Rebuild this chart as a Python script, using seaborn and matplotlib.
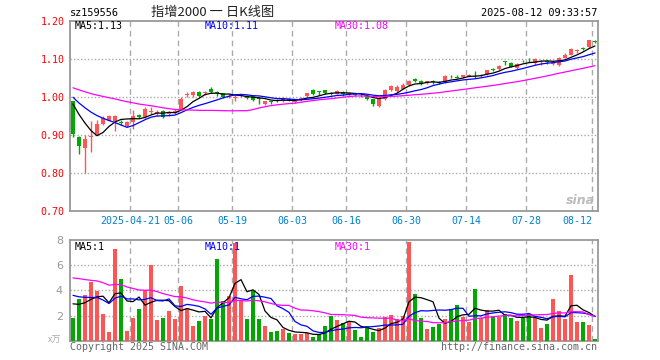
import numpy as np
import pandas as pd
import matplotlib
matplotlib.use("Agg")
import matplotlib.pyplot as plt
import seaborn as sns

# trading days 2025-04-07 .. 2025-08-12 (holidays removed)
holidays = ["2025-05-01", "2025-05-02", "2025-05-05", "2025-06-02"]
tick_dates = ["2025-04-21", "2025-05-06", "2025-05-19", "2025-06-03", "2025-06-16",
              "2025-06-30", "2025-07-14", "2025-07-28", "2025-08-12"]
tick_labels = ["2025-04-21", "05-06", "05-19", "06-03", "06-16", "06-30", "07-14", "07-28", "08-12"]

opens = [0.988, 0.893, 0.866, 0.893, 0.902, 0.928, 0.937, 0.935, 0.934, 0.924,
         0.933, 0.953, 0.947, 0.960, 0.957, 0.962, 0.955, 0.958, 0.967, 1.004,
         1.004, 1.013, 1.009, 1.021, 1.012, 1.009, 1.000, 0.997, 1.004, 1.003,
         1.002, 0.997, 0.981, 0.988, 0.991, 0.988, 0.994, 0.986, 0.992, 1.003,
         1.017, 1.014, 1.017, 1.010, 1.008, 1.013, 1.005, 1.006, 1.003, 1.002,
         0.993, 0.975, 0.993, 1.017, 1.016, 1.021, 1.030, 1.047, 1.041, 1.036,
         1.041, 1.039, 1.038, 1.053, 1.052, 1.052, 1.055, 1.058, 1.056, 1.059,
         1.072, 1.072, 1.092, 1.089, 1.075, 1.094, 1.100, 1.088, 1.090, 1.093,
         1.086, 1.083, 1.103, 1.111, 1.120, 1.127, 1.131, 1.146]
closes = [0.903, 0.870, 0.890, 0.897, 0.927, 0.945, 0.949, 0.949, 0.931, 0.933,
          0.949, 0.947, 0.967, 0.963, 0.959, 0.947, 0.958, 0.962, 0.995, 1.007,
          1.013, 1.001, 1.012, 1.012, 1.009, 1.000, 1.002, 0.999, 1.005, 0.996,
          0.991, 0.995, 0.988, 0.986, 0.989, 0.997, 0.992, 0.988, 0.996, 1.009,
          1.006, 1.012, 1.010, 1.008, 1.015, 1.006, 1.010, 1.004, 1.001, 0.994,
          0.980, 0.997, 1.017, 1.027, 1.025, 1.032, 1.041, 1.042, 1.033, 1.040,
          1.039, 1.035, 1.054, 1.051, 1.050, 1.056, 1.057, 1.056, 1.058, 1.069,
          1.071, 1.082, 1.091, 1.079, 1.087, 1.093, 1.098, 1.098, 1.092, 1.090,
          1.088, 1.103, 1.111, 1.126, 1.122, 1.126, 1.148, 1.145]
highs = [0.990, 0.897, 0.900, 0.935, 0.938, 0.950, 0.952, 0.952, 0.938, 0.936,
         0.966, 0.955, 0.973, 0.972, 0.965, 0.964, 0.963, 0.967, 0.998, 1.012,
         1.016, 1.015, 1.016, 1.025, 1.016, 1.011, 1.006, 1.004, 1.008, 1.004,
         1.003, 0.998, 0.990, 0.990, 0.994, 0.999, 0.997, 0.991, 0.999, 1.011,
         1.019, 1.015, 1.018, 1.012, 1.017, 1.015, 1.013, 1.009, 1.006, 1.003,
         0.995, 0.999, 1.019, 1.030, 1.031, 1.035, 1.045, 1.048, 1.043, 1.042,
         1.044, 1.041, 1.056, 1.057, 1.056, 1.058, 1.061, 1.068, 1.060, 1.071,
         1.076, 1.084, 1.095, 1.092, 1.089, 1.097, 1.103, 1.101, 1.096, 1.097,
         1.093, 1.105, 1.114, 1.128, 1.126, 1.130, 1.150, 1.149]
lows = [0.895, 0.848, 0.800, 0.855, 0.900, 0.925, 0.935, 0.910, 0.925, 0.920,
        0.914, 0.944, 0.945, 0.955, 0.950, 0.943, 0.950, 0.955, 0.965, 0.998,
        1.000, 0.998, 1.004, 1.010, 1.003, 0.997, 0.996, 0.988, 1.000, 0.994,
        0.988, 0.980, 0.979, 0.982, 0.986, 0.986, 0.989, 0.983, 0.990, 1.000,
        1.004, 1.004, 1.008, 1.004, 1.006, 1.003, 1.002, 1.001, 0.998, 0.991,
        0.975, 0.972, 0.991, 1.015, 1.013, 1.019, 1.028, 1.038, 1.031, 1.034,
        1.034, 1.033, 1.036, 1.049, 1.048, 1.050, 1.053, 1.050, 1.053, 1.057,
        1.067, 1.070, 1.083, 1.077, 1.073, 1.090, 1.090, 1.083, 1.084, 1.086,
        1.083, 1.081, 1.101, 1.109, 1.116, 1.122, 1.129, 1.141]
volumes = [1.84, 3.30, 3.65, 4.64, 3.97, 2.13, 0.69, 7.25, 4.93, 0.80,
           1.84, 2.53, 4.05, 6.00, 1.65, 1.84, 2.32, 1.76, 4.37, 2.50,
           1.20, 1.60, 2.00, 1.76, 6.53, 3.17, 3.57, 7.73, 3.25, 1.73,
           3.92, 1.73, 1.17, 0.69, 0.77, 0.90, 0.59, 0.53, 0.53, 0.59,
           0.32, 0.50, 1.17, 2.00, 1.65, 1.39, 1.52, 0.85, 0.29, 1.17,
           0.69, 0.99, 1.87, 2.05, 1.70, 1.97, 7.84, 3.73, 1.84, 0.93,
           1.12, 1.33, 1.70, 2.53, 2.85, 1.87, 1.52, 4.13, 1.79, 2.45,
           1.87, 1.87, 2.10, 1.84, 1.60, 1.84, 2.13, 1.84, 1.04, 1.33,
           3.33, 2.32, 1.70, 5.20, 1.52, 1.52, 1.25, 0.13]
# closes / volumes of the 29 sessions before the window (seed the moving averages)
prior_closes = [1.035, 1.040, 1.045, 1.042, 1.048, 1.050, 1.046, 1.044, 1.040, 1.038,
                1.042, 1.036, 1.030, 1.034, 1.032, 1.028, 1.024, 1.026, 1.020, 1.018,
                1.022, 1.015, 1.012, 1.018, 1.016, 1.006, 1.004, 0.996, 0.994]
prior_volumes = [5.1, 5.8, 6.6, 5.4, 6.1, 6.8, 5.6, 5.2, 6.4, 5.5,
                 6.0, 4.8, 5.7, 5.1, 6.6, 5.9, 5.4, 4.6, 5.8, 5.3,
                 4.5, 4.0, 4.8, 3.9, 4.2, 3.5, 3.0, 3.3, 3.0]

RED = "#ff5555"
GREEN = "#00a800"
GRID = "#aaaaaa"
FRAME = "#999999"

days = pd.bdate_range("2025-04-07", "2025-08-12")
days = days[~days.isin(pd.to_datetime(holidays))]
n = len(days)
idx = np.arange(n)
tick_pos = [days.get_loc(pd.Timestamp(d)) - 0.5 for d in tick_dates]

df = pd.DataFrame({"x": idx, "open": opens, "close": closes, "high": highs,
                   "low": lows, "vol": volumes})
df["dir"] = np.where(df["close"] >= df["open"], "up", "down")
all_c = pd.Series(prior_closes + closes)
all_v = pd.Series(prior_volumes + volumes)
k = len(prior_closes)
for w in (5, 10, 30):
    df["ma%d" % w] = all_c.rolling(w).mean().values[k:]
    df["vma%d" % w] = all_v.rolling(w).mean().values[k:]

sns.set_style("white")
plt.rcParams["font.family"] = ["DejaVu Sans Mono", "Noto Sans CJK SC"]

fig = plt.figure(figsize=(6.6, 3.6), dpi=100)
W, H = 660.0, 360.0
ax = fig.add_axes([70 / W, 1 - 210.7 / H, 528 / W, 190 / H])
axv = fig.add_axes([70 / W, 1 - 340.7 / H, 528 / W, 100.7 / H])

def ft(x, y, s, **kw):
    fig.text(x / W, 1 - y / H, s, **kw)

for a in (ax, axv):
    for p in tick_pos:
        a.axvline(p, color=GRID, lw=1, ls=(0, (4, 3)), zorder=0)
    for s in a.spines.values():
        s.set_color(FRAME)
        s.set_linewidth(1.3)
for yv in (0.8, 0.9, 1.0, 1.1):
    ax.axhline(yv, color=GRID, lw=1, ls=(0, (1, 1.5)), zorder=0)

# --- price panel
cols = np.where(df["dir"] == "up", RED, GREEN)
ax.vlines(df["x"], df["low"], df["high"], colors=cols, lw=1, zorder=2)
body_bot = np.minimum(df["open"], df["close"])
body_h = np.maximum((df["close"] - df["open"]).abs(), 0.002)
ax.bar(df["x"], body_h, bottom=body_bot, width=0.8, color=cols, lw=0, zorder=3)

sns.lineplot(data=df, x="x", y="ma5", ax=ax, color="black", lw=0.9, zorder=4)
sns.lineplot(data=df, x="x", y="ma10", ax=ax, color="#0000ff", lw=0.9, zorder=4)
sns.lineplot(data=df, x="x", y="ma30", ax=ax, color="#ff00ff", lw=0.9, zorder=4)

ax.set_xlim(-0.5, n - 0.5)
ax.set_ylim(0.70, 1.20)
ax.set_yticks([0.7, 0.8, 0.9, 1.0, 1.1, 1.2])
ax.set_yticklabels(["%.2f" % v for v in [0.7, 0.8, 0.9, 1.0, 1.1, 1.2]])
ax.set_xticks(tick_pos)
ax.set_xticklabels(tick_labels)
ax.get_xticklabels()[-1].set_horizontalalignment("right")
ax.tick_params(axis="y", length=0, pad=4, labelsize=7.2, labelcolor="#ff0000")
ax.tick_params(axis="x", length=0, pad=4, labelsize=7.2, labelcolor="#0080d0")
ax.set_xlabel("")
ax.set_ylabel("")

# --- volume panel
axv.bar(df["x"], df["vol"], width=0.72, color=cols, lw=0, zorder=3)
sns.lineplot(data=df, x="x", y="vma5", ax=axv, color="black", lw=0.9, zorder=4)
sns.lineplot(data=df, x="x", y="vma10", ax=axv, color="#0000ff", lw=0.9, zorder=4)
sns.lineplot(data=df, x="x", y="vma30", ax=axv, color="#ff00ff", lw=0.9, zorder=4)
for yv in (2, 4, 6):
    axv.axhline(yv, color=GRID, lw=1, ls=(0, (1, 1.5)), zorder=0)
axv.set_xlim(-0.5, n - 0.5)
axv.set_ylim(0, 8)
axv.set_yticks([2, 4, 6, 8])
axv.set_yticklabels(["2", "4", "6", "8"], family="DejaVu Sans")
axv.set_xticks([])
axv.tick_params(axis="y", length=0, pad=5, labelsize=8, labelcolor="#999999")
axv.set_xlabel("")
axv.set_ylabel("")

# --- texts
ft(70, 13, "sz159556", fontsize=7.4, va="center", ha="left", color="black")
ft(213, 12, "指增2000 一 日K线图", fontsize=9.5, va="center", ha="center",
   color="#222222", family=["Noto Sans CJK SC", "DejaVu Sans"])
ft(597, 13, "2025-08-12 09:33:57", fontsize=7.4, va="center", ha="right", color="black")
ft(75, 26, "MA5:1.13", fontsize=7.2, va="center", color="black")
ft(205, 26, "MA10:1.11", fontsize=7.2, va="center", color="#0000ff")
ft(335, 26, "MA30:1.08", fontsize=7.2, va="center", color="#ff00ff")
ft(75, 247, "MA5:1", fontsize=7.2, va="center", color="black")
ft(205, 247, "MA10:1", fontsize=7.2, va="center", color="#0000ff")
ft(335, 247, "MA30:1", fontsize=7.2, va="center", color="#ff00ff")
ft(61, 340, "x万", fontsize=6.5, va="center", ha="right", color="#aaaaaa",
   family=["Noto Sans CJK SC", "DejaVu Sans"])
ft(70, 347, "Copyright 2025 SINA.COM", fontsize=7.2, va="center", color="#666666")
ft(597, 347, "http://finance.sina.com.cn", fontsize=7.2, va="center", ha="right",
   color="#666666")
ft(580, 200, "sina", fontsize=9, va="center", ha="center", color="#bbbbbb",
   style="italic", weight="bold", family="DejaVu Sans")

fig.savefig("out.png", dpi=100)
